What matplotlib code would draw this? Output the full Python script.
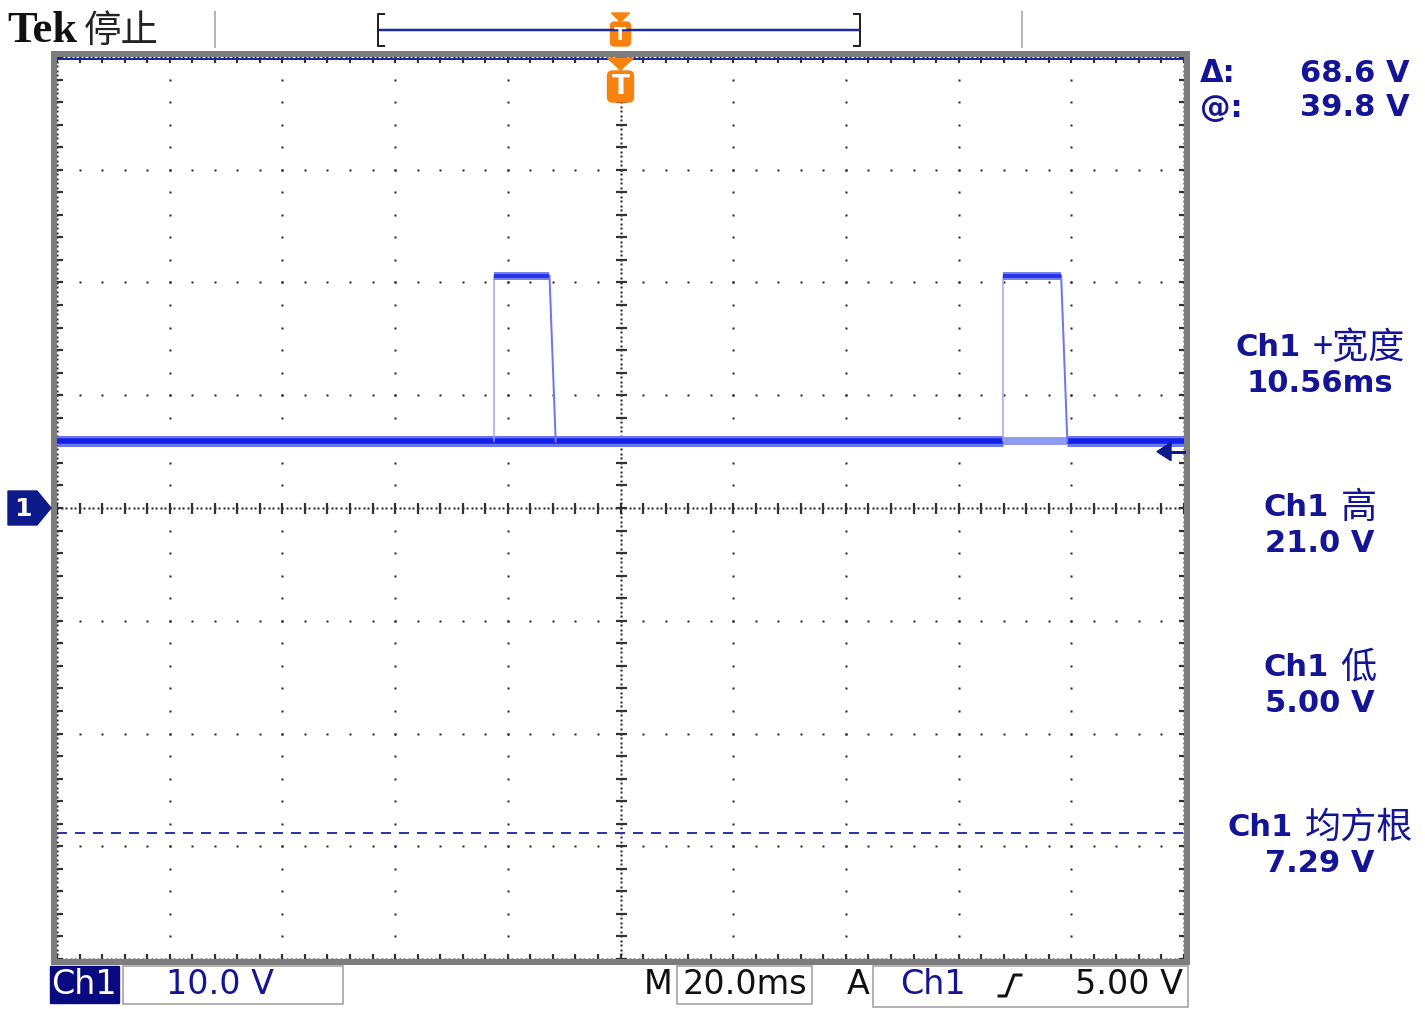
import matplotlib.pyplot as plt
import matplotlib.patches as mpatches
import numpy as np

plt.rcParams['font.family'] = ['DejaVu Sans', 'Noto Sans CJK SC']

# scope settings
time_div_ms = 20.0
volt_div = 10.0
n_xdiv = 10
n_ydiv = 8

# Ch1 waveform (ms, V)
baseline_v = 5.9
pulse_high_v = 20.6
pulse_rise_ms = [-22.5, 67.9]
pulse_fall_top_ms = [-12.6, 78.2]
pulse_fall_bottom_ms = [-11.5, 79.3]
pulse_faded = [False, True]

cursor_top_v = 39.8
cursor_bottom_v = -28.8
trigger_level_v = 5.0
trigger_pos_ms = 0.0

cursor_labels = ['Δ:', '@:']
cursor_values = ['68.6 V', '39.8 V']
meas_names = ['+宽度', '高', '低', '均方根']
meas_values = ['10.56ms', '21.0 V', '5.00 V', '7.29 V']

navy = '#141496'
trace_c = '#1420e6'
orange = '#f7820f'
px = 0.72  # points per pixel at dpi 100

W, H = 1425, 1009
fig = plt.figure(figsize=(W / 100, H / 100), dpi=100)
fig.patch.set_facecolor('white')

# graticule area in pixels
L, R, T, B = 57, 1184, 57, 959
ax = fig.add_axes([L / W, 1 - B / H, (R - L) / W, (B - T) / H])
xmax = time_div_ms * n_xdiv / 2
ymax = volt_div * n_ydiv / 2
ax.set_xlim(-xmax, xmax)
ax.set_ylim(-ymax, ymax)
ax.axis('off')


def tx(t):
    return L + (t + xmax) / (2 * xmax) * (R - L)


def vy(v):
    return T + (ymax - v) / (2 * ymax) * (B - T)


# --- graticule dots
dot = dict(ls='none', marker='s', ms=1.7, mec='none', mfc='#222222', zorder=1)
minor_x = np.arange(-xmax, xmax + 1e-6, time_div_ms / 5)
minor_y = np.arange(-ymax, ymax + 1e-6, volt_div / 5)
fine_x = np.arange(-xmax, xmax + 1e-6, time_div_ms / 25)
fine_y = np.arange(-ymax, ymax + 1e-6, volt_div / 25)
major_x = np.arange(-xmax + time_div_ms, xmax - 1e-6, time_div_ms)
major_y = np.arange(-ymax + volt_div, ymax - 1e-6, volt_div)

for gx in major_x:
    if abs(gx) > 1e-9:
        ax.plot(np.full_like(minor_y, gx), minor_y, **dot)
for gy in major_y:
    if abs(gy) > 1e-9:
        ax.plot(minor_x, np.full_like(minor_x, gy), **dot)

# centre cross and edges: dense dots plus ticks
for gy in (0.0, -ymax, ymax):
    ax.plot(fine_x, np.full_like(fine_x, gy), **dot)
    ax.plot(minor_x, np.full_like(minor_x, gy), ls='none', marker='|',
            ms=11 * px, mew=1.6, color='#333333', zorder=1)
for gx in (0.0, -xmax, xmax):
    ax.plot(np.full_like(fine_y, gx), fine_y, **dot)
    ax.plot(np.full_like(minor_y, gx), minor_y, ls='none', marker='_',
            ms=11 * px, mew=1.6, color='#333333', zorder=1)

# --- cursors
ax.axhline(cursor_top_v, color='#1a2a9c', lw=2 * px, zorder=2)
ax.axhline(cursor_bottom_v, color='#2a3aa8', lw=2 * px, dashes=(5, 4), zorder=2)

# --- waveform
def base_seg(x0, x1, faded):
    if faded:
        ax.plot([x0, x1], [baseline_v] * 2, color='#8f9af2', lw=8 * px,
                solid_capstyle='butt', zorder=3)
    else:
        ax.plot([x0, x1], [baseline_v] * 2, color='#6a76f0', lw=11 * px,
                solid_capstyle='butt', zorder=3)
        ax.plot([x0, x1], [baseline_v] * 2, color=trace_c, lw=5.5 * px,
                solid_capstyle='butt', zorder=3)


seg_start = -xmax
for rise, fall_b, faded in zip(pulse_rise_ms, pulse_fall_bottom_ms, pulse_faded):
    if faded:
        base_seg(seg_start, rise, False)
        base_seg(rise, fall_b, True)
        seg_start = fall_b
base_seg(seg_start, xmax, False)

for rise, fall_t, fall_b in zip(pulse_rise_ms, pulse_fall_top_ms, pulse_fall_bottom_ms):
    ax.plot([rise, rise], [baseline_v, pulse_high_v], color='#9aa4f4',
            lw=1.5 * px, zorder=4)
    ax.plot([fall_t, fall_b], [pulse_high_v, baseline_v], color='#6a78ee',
            lw=2 * px, zorder=4)
    ax.plot([rise, fall_t], [pulse_high_v] * 2, color='#7480f0', lw=8 * px,
            solid_capstyle='butt', zorder=4)
    ax.plot([rise, fall_t], [pulse_high_v] * 2, color='#2a36e6', lw=4 * px,
            solid_capstyle='butt', zorder=4)

# --- overlay in pixel coordinates
ov = fig.add_axes([0, 0, 1, 1])
ov.set_xlim(0, W)
ov.set_ylim(H, 0)
ov.axis('off')

# frame
ov.add_patch(mpatches.Rectangle((L - 3, T - 3), R - L + 6, B - T + 6, fill=False,
                                ec='#7d7d7d', lw=6 * px))

# top bar
ov.text(7, 31, 'Tek', family='Liberation Serif', weight='bold', fontsize=32,
        va='center', ha='left', color='#111111')
ov.text(84, 31, '停止', family=['Noto Sans CJK SC'], fontsize=27, va='center',
        ha='left', color='#222222', weight='light')
for sx in (215, 1022):
    ov.plot([sx, sx], [12, 47], color='#b5b5b5', lw=2 * px)
ov.plot([380, 858], [30, 30], color='#1a2a9c', lw=2.5 * px)
ov.plot([384, 378, 378, 384], [14, 14, 46, 46], color='#222222', lw=2 * px)
ov.plot([854, 860, 860, 854], [14, 14, 46, 46], color='#222222', lw=2 * px)

# trigger position markers
xt = tx(trigger_pos_ms)
ov.add_patch(mpatches.Polygon([(xt - 9, 13), (xt + 9, 13), (xt, 22)], color=orange))
ov.add_patch(mpatches.FancyBboxPatch((xt - 10, 22), 20, 24,
                                     boxstyle='round,pad=0,rounding_size=4', color=orange))
ov.text(xt, 35, 'T', color='white', weight='bold', fontsize=13, ha='center', va='center')
ov.add_patch(mpatches.Polygon([(xt - 13, 58), (xt + 13, 58), (xt, 70)], color=orange))
ov.add_patch(mpatches.FancyBboxPatch((xt - 13, 71), 26, 31,
                                     boxstyle='round,pad=0,rounding_size=5', color=orange))
ov.text(xt, 87, 'T', color='white', weight='bold', fontsize=19, ha='center', va='center')

# channel ground marker
yg = vy(0)
ov.add_patch(mpatches.Polygon([(8, yg - 17), (37, yg - 17), (51, yg), (37, yg + 17),
                               (8, yg + 17)], color='#0c1a8a'))
ov.text(23, yg + 1, '1', color='white', weight='bold', fontsize=18, ha='center', va='center')

# trigger level marker
yt = vy(trigger_level_v)
ov.add_patch(mpatches.Polygon([(1157, yt), (1171, yt - 9), (1171, yt + 9)], color='#0c1a8a'))
ov.plot([1168, R], [yt, yt], color='#0c1a8a', lw=3 * px)

# cursor readout
for i, (lab, val) in enumerate(zip(cursor_labels, cursor_values)):
    yy = 73 + i * 35
    ov.text(1200, yy, lab, color=navy, weight='bold', fontsize=22, ha='left', va='center')
    ov.text(1410, yy, val, color=navy, weight='bold', fontsize=22, ha='right', va='center')

# measurements
renderer = fig.canvas.get_renderer()
for i, (name, val) in enumerate(zip(meas_names, meas_values)):
    yy = 348 + i * 160
    cx = 1320
    t1 = ov.text(0, yy, 'Ch1', color=navy, weight='bold', fontsize=22, ha='left', va='center')
    t2 = ov.text(0, yy, name, color=navy, family=['Noto Sans CJK SC', 'DejaVu Sans'],
                 fontsize=26, ha='left', va='center')
    w1 = t1.get_window_extent(renderer).width
    w2 = t2.get_window_extent(renderer).width
    gap = 12
    x0 = cx - (w1 + gap + w2) / 2
    t1.set_x(x0)
    t2.set_x(x0 + w1 + gap)
    ov.text(cx, yy + 35, val, color=navy, weight='bold', fontsize=22, ha='center', va='center')

# bottom status line
yb = 985
fs_b = 24
ov.add_patch(mpatches.Rectangle((50, 966), 69, 37, color='#0a0a80'))
ov.text(84, yb, 'Ch1', color='white', fontsize=fs_b, ha='center', va='center')
ov.add_patch(mpatches.Rectangle((123, 966), 220, 38, fc='white', ec='#9a9a9a', lw=1.5 * px))
ov.text(220, yb, f'{volt_div:.1f} V', color=navy, fontsize=fs_b, ha='center', va='center')
ov.text(658, yb, 'M', color='#111111', fontsize=fs_b, ha='center', va='center')
ov.add_patch(mpatches.Rectangle((677, 966), 135, 38, fc='white', ec='#9a9a9a', lw=1.5 * px))
ov.text(745, yb, f'{time_div_ms:.1f}ms', color='#111111', fontsize=fs_b, ha='center', va='center')
ov.text(858, yb, 'A', color='#111111', fontsize=fs_b, ha='center', va='center')
ov.add_patch(mpatches.Rectangle((873, 966), 315, 41, fc='white', ec='#9a9a9a', lw=1.5 * px))
ov.text(933, yb, 'Ch1', color=navy, fontsize=fs_b, ha='center', va='center')
ov.plot([999, 1006, 1014, 1021], [996, 996, 975, 975], color='#111111', lw=3 * px)
ov.text(1183, yb, f'{trigger_level_v:.2f} V', color='#111111', fontsize=fs_b,
        ha='right', va='center')

fig.savefig('out.png', dpi=100)
